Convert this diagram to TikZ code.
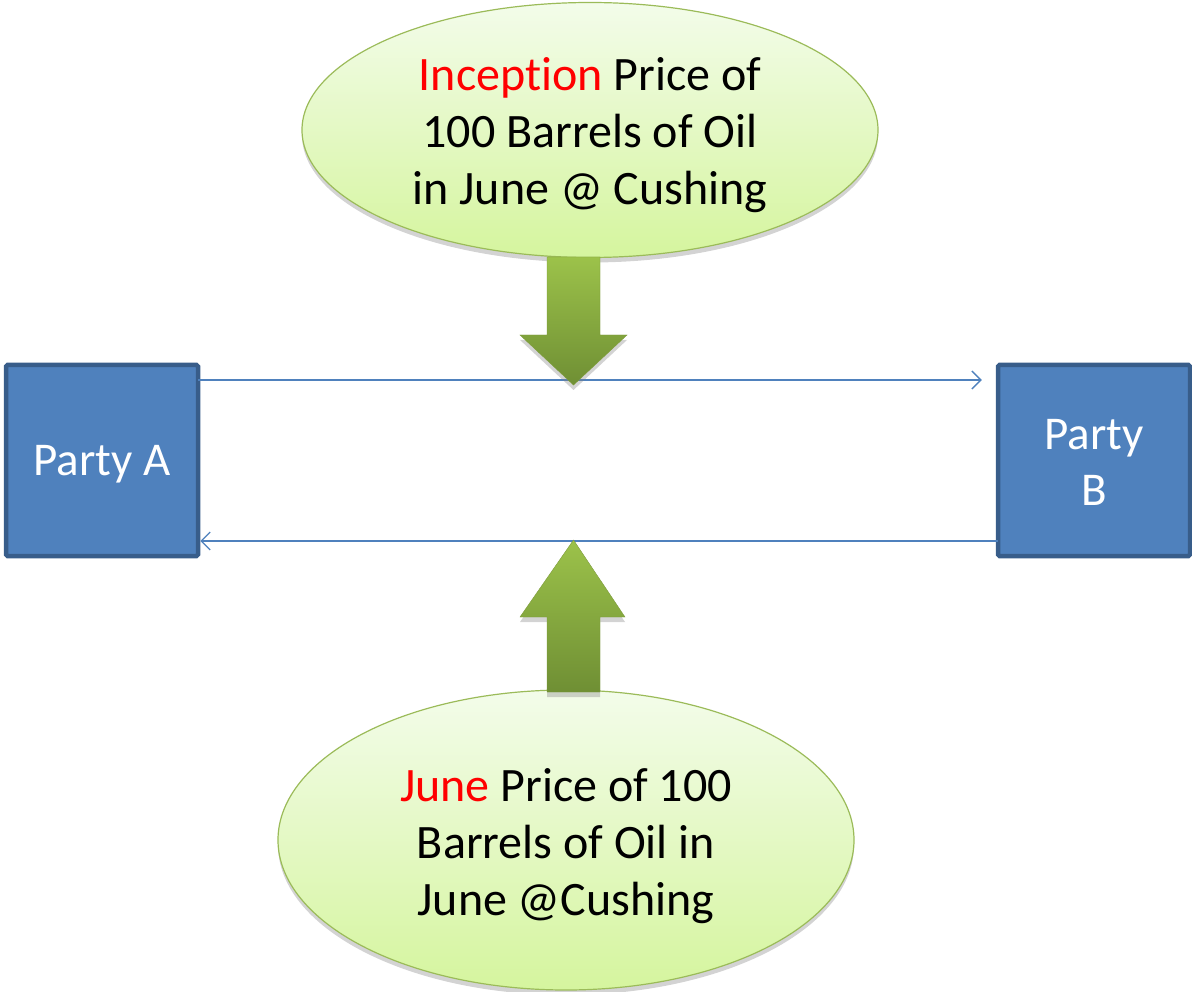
\documentclass[tikz,border=0pt]{standalone}
\usepackage{fontspec}
\setmainfont[Ligatures=NoCommon]{Carlito}
\usetikzlibrary{arrows.meta,shapes.geometric,shadows}
\definecolor{boxfill}{HTML}{4F81BD}
\definecolor{boxline}{HTML}{385D8A}
\definecolor{elltop}{HTML}{F3FCEA}
\definecolor{ellbot}{HTML}{D5F59E}
\definecolor{ellline}{HTML}{9BBB59}
\definecolor{arrtop}{HTML}{9CC24A}
\definecolor{arrbot}{HTML}{6F8F34}
\definecolor{txtred}{HTML}{FF0000}
\begin{document}
\begin{tikzpicture}[x=1pt,y=-1pt,
  party/.style={draw=boxline,fill=boxfill,line width=4.5pt,rounded corners=1.5pt,
    minimum width=192pt,minimum height=191pt,inner sep=0pt},
  partytext/.style={text=white,font=\fontsize{47}{56}\selectfont,align=center,inner sep=0pt},
  bubble/.style={ellipse,draw=ellline,line width=1.2pt,top color=elltop,bottom color=ellbot,
    inner sep=0pt,
    drop shadow={opacity=0.35,shadow xshift=0pt,shadow yshift=-5pt}},
  bubbletext/.style={font=\fontsize{48}{57}\selectfont,align=center,inner sep=0pt},
  flow/.style={draw=boxfill,line width=1.4pt,-{Straight Barb[length=9pt,width=18pt,line width=1.4pt]}},
  block/.style={top color=arrtop,bottom color=arrbot,draw=arrtop!80!black,line width=0.4pt,
    drop shadow={opacity=0.35,shadow xshift=0pt,shadow yshift=-5pt}}]
\useasboundingbox (0,0) rectangle (1192,992);

\node[party,label={[partytext,yshift=-4pt]center:Party A}] (A) at (102,460.5) {};
\node[party,label={[partytext,yshift=-2pt]center:Party\\B}] (B) at (1094,460.5) {};

\node[bubble,minimum width=576pt,minimum height=255pt,
  label={[bubbletext,yshift=-5pt]center:\textcolor{txtred}{Inception} Price of\\100 Barrels of Oil\\in June @ Cushing}] (top) at (590,130) {};
\node[bubble,minimum width=576pt,minimum height=300pt,
  label={[bubbletext,yshift=-6pt]center:\textcolor{txtred}{June} Price of 100\\Barrels of Oil in\\June @Cushing}] (bot) at (566,840) {};

% connectors
\coordinate (a1) at (A.east |- 0,380);
\coordinate (b1) at (B.west |- 0,380);
\coordinate (a2) at (A.east |- 0,541);
\coordinate (b2) at (B.west |- 0,541);
\draw[flow,shorten >=14pt,shorten <=-2pt] (a1) -- (b1);
\draw[flow,shorten >=0pt,shorten <=-2pt] (b2) -- (a2);

% block arrows
\coordinate (dtip) at (573.5,385);
\coordinate (utip) at (573.5,540);
\path[block] (547,257) -- (600,257) -- (600,335) -- (627,335) -- (dtip) -- (520,335) -- (547,335) -- cycle;
\path[block] (547,692) -- (600,692) -- (600,617) -- (625,617) -- (utip) -- (520,617) -- (547,617) -- cycle;
\end{tikzpicture}
\end{document}
